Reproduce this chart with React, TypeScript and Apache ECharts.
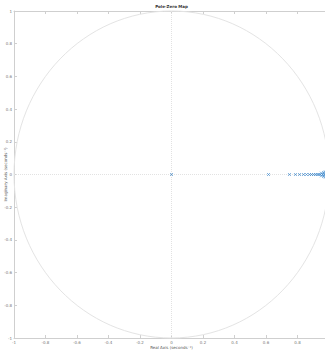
import { useEffect, useRef } from "react";
import * as echarts from "echarts";

// Pole locations (real and imaginary parts)
const poleReal = [
  0, 0.616, 0.749, 0.787, 0.813, 0.838, 0.857, 0.876, 0.889, 0.902, 0.914,
  0.925, 0.935, 0.944, 0.952, 0.952, 0.96, 0.966, 0.966, 0.972, 0.977, 0.977,
  0.982, 0.986, 0.986, 0.99, 0.993, 0.996, 0.998,
];
const poleImag = [
  0, 0, 0, 0, 0, 0, 0, 0, 0, 0, 0,
  0, 0, 0, 0.008, -0.008, 0, 0.012, -0.012, 0, 0.016, -0.016,
  0, 0.018, -0.018, 0, 0, 0, 0,
];

const AXIS_MIN = -1;
const AXIS_MAX = 1;
const TICK_STEP = 0.2;

const TITLE = "Pole-Zero Map";
const X_NAME = "Real Axis (seconds\u207B\u00B9)";
const Y_NAME = "Imaginary Axis (seconds\u207B\u00B9)";

const AXIS_COLOR = "#cfcfcf";
const LABEL_COLOR = "#777";
const POLE_COLOR = "#3a88cc";

export default function App() {
  const ref = useRef<HTMLDivElement>(null);

  useEffect(() => {
    if (!ref.current) return;
    const chart = echarts.init(ref.current, null, { renderer: "svg" });

    const poles = poleReal.map((re, i) => [re, poleImag[i]]);

    const baseAxis = {
      type: "value" as const,
      min: AXIS_MIN,
      max: AXIS_MAX,
      interval: TICK_STEP,
      splitLine: { show: false },
      axisLine: { show: true, onZero: false, lineStyle: { color: AXIS_COLOR, width: 1 } },
      axisTick: { show: true, inside: true, length: 3, lineStyle: { color: AXIS_COLOR } },
    };

    const labelStyle = {
      fontSize: 4,
      color: LABEL_COLOR,
      fontFamily: "DejaVu Sans",
    };

    chart.setOption({
      animation: false,
      grid: {
        left: 14,
        top: 11,
        width: 315,
        height: 327,
        containLabel: false,
        outerBoundsMode: "none",
      },
      xAxis: [
        {
          ...baseAxis,
          position: "bottom",
          axisLabel: { ...labelStyle, margin: 2, showMaxLabel: false },
        },
        { ...baseAxis, position: "top", axisLabel: { show: false } },
      ],
      yAxis: [
        { ...baseAxis, position: "left", axisLabel: { ...labelStyle, margin: 2 } },
        { ...baseAxis, position: "right", axisLabel: { show: false } },
      ],
      series: [
        {
          type: "scatter",
          xAxisIndex: 0,
          yAxisIndex: 0,
          data: poles,
          symbol: "path://M0 0L10 10M10 0L0 10",
          symbolSize: 3,
          z: 5,
          itemStyle: { color: "none", borderColor: POLE_COLOR, borderWidth: 0.8 },
          markLine: {
            silent: true,
            symbol: "none",
            label: { show: false },
            lineStyle: { color: "#e2e2e2", type: "dotted", width: 1 },
            data: [{ xAxis: 0 }, { yAxis: 0 }],
            z: 1,
          },
        },
      ],
    });

    // Unit circle and titles placed through the axis scales
    const c = chart.convertToPixel({ gridIndex: 0 }, [0, 0]) as number[];
    const px = chart.convertToPixel({ gridIndex: 0 }, [1, 0]) as number[];
    const py = chart.convertToPixel({ gridIndex: 0 }, [0, 1]) as number[];
    const textStyle = {
      fontSize: 4,
      fontFamily: "DejaVu Sans",
      align: "center" as const,
      verticalAlign: "middle" as const,
    };
    chart.setOption({
      graphic: [
        {
          type: "ellipse",
          z: 1,
          silent: true,
          shape: { cx: c[0], cy: c[1], rx: px[0] - c[0], ry: c[1] - py[1] },
          style: { fill: "none", stroke: "#e4e4e4", lineWidth: 1 },
        },
        {
          type: "text",
          x: c[0],
          y: 6,
          style: { ...textStyle, text: TITLE, fontWeight: "bold", fill: "#333" },
        },
        {
          type: "text",
          x: c[0],
          y: 347.5,
          style: { ...textStyle, text: X_NAME, fill: "#555" },
        },
        {
          type: "text",
          x: 5,
          y: c[1],
          rotation: Math.PI / 2,
          style: { ...textStyle, text: Y_NAME, fill: "#555" },
        },
      ],
    });

    return () => chart.dispose();
  }, []);

  return (
    <div
      ref={ref}
      style={{ position: "fixed", left: 0, top: 0, width: 325, height: 350, background: "#fff" }}
    />
  );
}
